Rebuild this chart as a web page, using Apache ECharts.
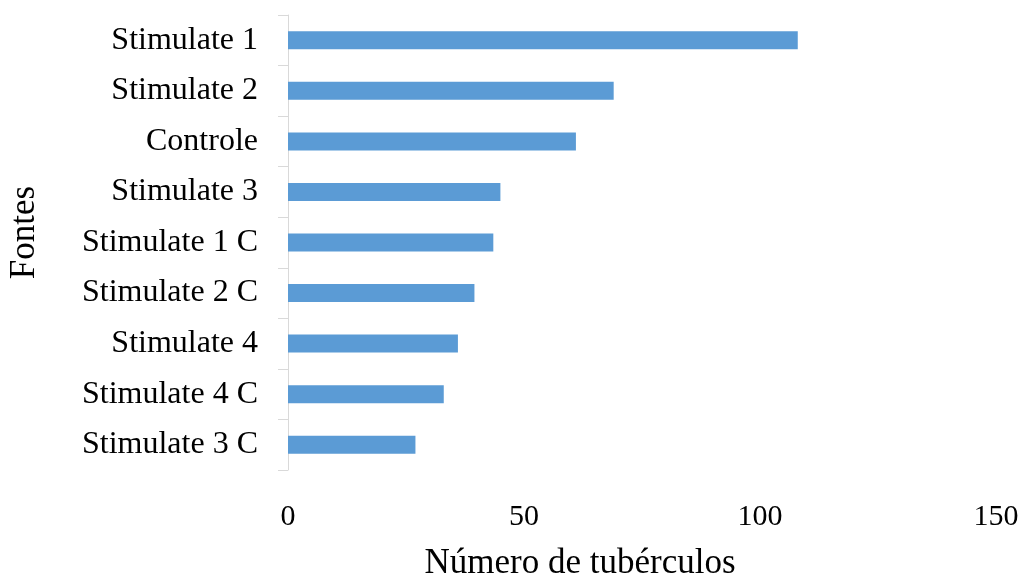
<!DOCTYPE html>
<html>
<head>
<meta charset="utf-8">
<script src="https://cdn.jsdelivr.net/npm/echarts@6/dist/echarts.min.js"></script>
<style>
html,body{margin:0;padding:0;background:#fff;}
#chart{width:1025px;height:578px;}
</style>
</head>
<body>
<div id="chart"></div>
<script>
var categories = ['Stimulate 1','Stimulate 2','Controle','Stimulate 3','Stimulate 1 C','Stimulate 2 C','Stimulate 4','Stimulate 4 C','Stimulate 3 C'];
var values = [108, 69, 61, 45, 43.5, 39.5, 36, 33, 27];
var xTicks = [0, 50, 100, 150];
var xTitle = 'Número de tubérculos';
var yTitle = 'Fontes';

var font = '"Liberation Serif", "Times New Roman", serif';
var chart = echarts.init(document.getElementById('chart'), null, {renderer: 'canvas'});
chart.setOption({
  animation: false,
  backgroundColor: '#ffffff',
  grid: {left: 288, right: 29, top: 15, bottom: 108, containLabel: false, outerBoundsMode: 'none'},
  xAxis: {
    type: 'value',
    min: xTicks[0],
    max: xTicks[xTicks.length - 1],
    interval: 50,
    axisLine: {show: false},
    axisTick: {show: false},
    splitLine: {show: false},
    axisLabel: {color: '#000', fontFamily: font, fontSize: 30, margin: 32},
    name: xTitle,
    nameLocation: 'middle',
    nameGap: 76,
    nameTextStyle: {color: '#000', fontFamily: font, fontSize: 35, padding: [0, 124, 0, 0]}
  },
  yAxis: {
    type: 'category',
    data: categories,
    inverse: true,
    axisLine: {show: true, lineStyle: {color: '#d9d9d9', width: 1}},
    axisTick: {show: true, length: 10, lineStyle: {color: '#d9d9d9'}},
    splitLine: {show: false},
    axisLabel: {color: '#000', fontFamily: font, fontSize: 32, margin: 30},
    name: yTitle,
    nameLocation: 'middle',
    nameGap: 246,
    nameRotate: 90,
    nameTextStyle: {color: '#000', fontFamily: font, fontSize: 35, padding: [0, 0, 0, 20]}
  },
  series: [{
    type: 'bar',
    data: values,
    barWidth: 18,
    itemStyle: {color: '#5b9bd5'}
  }]
});
</script>
</body>
</html>
